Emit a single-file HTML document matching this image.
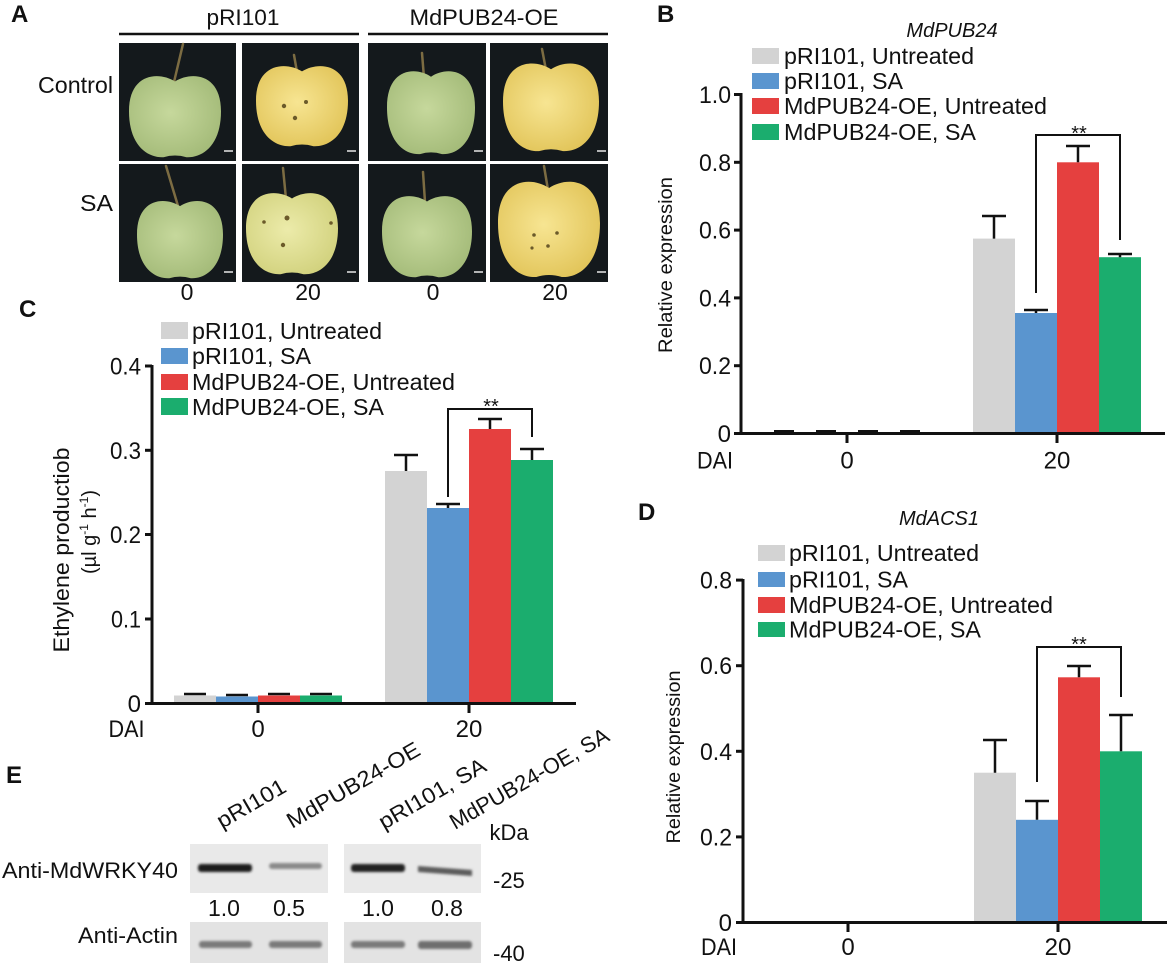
<!DOCTYPE html>
<html><head><meta charset="utf-8"><style>
html,body{margin:0;padding:0;background:#fff;}
svg{display:block;}
text{font-family:"Liberation Sans",Arial,sans-serif;fill:#111;}
</style></head><body>
<svg width="1167" height="964" viewBox="0 0 1167 964" xmlns="http://www.w3.org/2000/svg">
<defs>
<radialGradient id="gG" cx="0.45" cy="0.45" r="0.6"><stop offset="0" stop-color="#c6d89c"/><stop offset="1" stop-color="#a4bb79"/></radialGradient>
<radialGradient id="gY" cx="0.45" cy="0.45" r="0.6"><stop offset="0" stop-color="#f7e592"/><stop offset="1" stop-color="#e2c55a"/></radialGradient>
<radialGradient id="gP" cx="0.45" cy="0.45" r="0.6"><stop offset="0" stop-color="#ecebaa"/><stop offset="1" stop-color="#d2d27e"/></radialGradient>
<filter id="bl" x="-20%" y="-100%" width="140%" height="300%"><feGaussianBlur stdDeviation="1.4"/></filter>
</defs>

<!-- ===== Panel A ===== -->
<text x="11" y="22" font-size="24" font-weight="bold">A</text>
<text x="243" y="25" font-size="22" text-anchor="middle" textLength="73" lengthAdjust="spacingAndGlyphs">pRI101</text>
<text x="484" y="25" font-size="22" text-anchor="middle" textLength="149" lengthAdjust="spacingAndGlyphs">MdPUB24-OE</text>
<line x1="119" y1="34" x2="359" y2="34" stroke="#111" stroke-width="2.5"/>
<line x1="368" y1="34" x2="608" y2="34" stroke="#111" stroke-width="2.5"/>
<text x="113" y="93" font-size="23" text-anchor="end" textLength="75" lengthAdjust="spacingAndGlyphs">Control</text>
<text x="113" y="211" font-size="23" text-anchor="end" textLength="33" lengthAdjust="spacingAndGlyphs">SA</text>

<g fill="#14191c">
<rect x="119" y="43" width="117" height="118"/>
<rect x="242" y="43" width="117" height="118"/>
<rect x="368" y="43" width="118" height="118"/>
<rect x="490" y="43" width="118" height="118"/>
<rect x="119" y="164" width="117" height="118"/>
<rect x="242" y="164" width="117" height="118"/>
<rect x="368" y="164" width="118" height="118"/>
<rect x="490" y="164" width="118" height="118"/>
</g>
<g stroke="#7c6c42" stroke-width="2.5" stroke-linecap="round">
<line x1="183" y1="44" x2="174" y2="82"/>
<line x1="294" y1="55" x2="297" y2="72"/>
<line x1="422" y1="53" x2="424" y2="78"/>
<line x1="542" y1="49" x2="546" y2="70"/>
<line x1="166" y1="166" x2="178" y2="206"/>
<line x1="283" y1="168" x2="286" y2="199"/>
<line x1="423" y1="172" x2="425" y2="202"/>
<line x1="544" y1="166" x2="548" y2="190"/>
</g>
<path fill="url(#gG)" d="M175,81.5 C191.1,71.3 221,73 221,111.3 C221,145.3 202.6,158 186.5,157.2 Q175,153.8 163.5,157.2 C147.4,158 129,145.3 129,111.3 C129,73 158.9,71.3 175,81.5Z"/>
<path fill="url(#gY)" d="M302,71.4 C318.1,61.3 348,63 348,100.8 C348,134.4 329.6,147 313.5,146.2 Q302,142.8 290.5,146.2 C274.4,147 256,134.4 256,100.8 C256,63 285.9,61.3 302,71.4Z"/>
<path fill="url(#gG)" d="M431,76.7 C446.4,66.3 475,68 475,107.2 C475,142 457.4,155 442,154.1 Q431,150.7 420,154.1 C404.6,155 387,142 387,107.2 C387,68 415.6,66.3 431,76.7Z"/>
<path fill="url(#gY)" d="M551,69.2 C567.8,58.2 599,60 599,101.4 C599,138.2 579.8,152 563,151.1 Q551,147.4 539,151.1 C522.2,152 503,138.2 503,101.4 C503,60 534.2,58.2 551,69.2Z"/>
<path fill="url(#gG)" d="M180,206.1 C195.1,196.4 223,198 223,234.5 C223,266.9 205.8,279 190.8,278.2 Q180,275 169.3,278.2 C154.2,279 137,266.9 137,234.5 C137,198 164.9,196.4 180,206.1Z"/>
<path fill="url(#gP)" d="M292,198.5 C308.1,188.3 338,190 338,228.3 C338,262.3 319.6,275 303.5,274.2 Q292,270.8 280.5,274.2 C264.4,275 246,262.3 246,228.3 C246,190 275.9,188.3 292,198.5Z"/>
<path fill="url(#gG)" d="M427,201.5 C442.8,191.3 472,193 472,231.3 C472,265.3 454,278 438.3,277.2 Q427,273.8 415.8,277.2 C400,278 382,265.3 382,231.3 C382,193 411.3,191.3 427,201.5Z"/>
<path fill="url(#gY)" d="M549,188 C566.9,176 600,178 600,223 C600,263 579.6,278 561.8,277 Q549,273 536.3,277 C518.4,278 498,263 498,223 C498,178 531.2,176 549,188Z"/>
<g fill="#6b5a2a">
<circle cx="284" cy="106" r="2.2"/><circle cx="306" cy="102" r="2"/><circle cx="295" cy="118" r="2.2"/>
<circle cx="287" cy="218" r="2.5"/><circle cx="264" cy="222" r="1.8"/><circle cx="283" cy="245" r="2.2"/><circle cx="331" cy="223" r="1.8"/>
<circle cx="534" cy="235" r="1.8"/><circle cx="557" cy="233" r="1.8"/><circle cx="532" cy="248" r="1.6"/><circle cx="548" cy="246" r="1.8"/>
</g>
<g stroke="#e8e8e8" stroke-width="1.5">
<line x1="224" y1="151" x2="233" y2="151"/><line x1="347" y1="151" x2="356" y2="151"/>
<line x1="474" y1="151" x2="483" y2="151"/><line x1="597" y1="151" x2="606" y2="151"/>
<line x1="224" y1="272" x2="233" y2="272"/><line x1="347" y1="272" x2="356" y2="272"/>
<line x1="474" y1="272" x2="483" y2="272"/><line x1="597" y1="272" x2="606" y2="272"/>
</g>
<g font-size="23" text-anchor="middle">
<text x="187" y="300">0</text><text x="308" y="300">20</text>
<text x="433" y="300">0</text><text x="555" y="300">20</text>
</g>

<!-- ===== Panel B ===== -->
<text x="657" y="22" font-size="24" font-weight="bold">B</text>
<text x="952" y="37" font-size="20" font-style="italic" text-anchor="middle">MdPUB24</text>
<rect x="752" y="48" width="27" height="16" fill="#d3d3d3"/>
<rect x="752" y="73" width="27" height="16" fill="#5a95cf"/>
<rect x="752" y="98" width="27" height="16" fill="#e5403f"/>
<rect x="752" y="124" width="27" height="16" fill="#1bad6e"/>
<g font-size="23">
<text x="784" y="64" textLength="190" lengthAdjust="spacingAndGlyphs">pRI101, Untreated</text>
<text x="784" y="89" textLength="119" lengthAdjust="spacingAndGlyphs">pRI101, SA</text>
<text x="784" y="114" textLength="263" lengthAdjust="spacingAndGlyphs">MdPUB24-OE, Untreated</text>
<text x="784" y="140" textLength="192" lengthAdjust="spacingAndGlyphs">MdPUB24-OE, SA</text>
</g>
<text transform="translate(672,265) rotate(-90)" font-size="19" text-anchor="middle" textLength="176" lengthAdjust="spacingAndGlyphs">Relative expression</text>
<rect x="973" y="238.6" width="42" height="194.9" fill="#d3d3d3"/>
<rect x="1015" y="313" width="42" height="120.5" fill="#5a95cf"/>
<rect x="1057" y="162.3" width="42" height="271.2" fill="#e5403f"/>
<rect x="1099" y="257.2" width="42" height="176.3" fill="#1bad6e"/>
<g stroke="#111" stroke-width="2.5" fill="none">
<path d="M994,238.6V216M982,216H1006"/>
<path d="M1036,313V310M1024,310H1048"/>
<path d="M1078,162.3V146M1066,146H1090"/>
<path d="M1120,257.2V254M1108,254H1132"/>
</g>
<g stroke="#111" stroke-width="3">
<line x1="774" y1="431.5" x2="794" y2="431.5"/><line x1="816" y1="431.5" x2="836" y2="431.5"/>
<line x1="858" y1="431.5" x2="878" y2="431.5"/><line x1="900" y1="431.5" x2="920" y2="431.5"/>
</g>
<polyline points="1036,293 1036,135 1120,135 1120,240" fill="none" stroke="#111" stroke-width="2"/>
<text x="1079" y="140" font-size="20" text-anchor="middle">**</text>
<g stroke="#111" stroke-width="3">
<line x1="741" y1="93" x2="741" y2="435"/>
<line x1="739.5" y1="433.5" x2="1165" y2="433.5"/>
<line x1="734" y1="433.5" x2="741" y2="433.5"/>
<line x1="734" y1="365.7" x2="741" y2="365.7"/>
<line x1="734" y1="297.9" x2="741" y2="297.9"/>
<line x1="734" y1="230.1" x2="741" y2="230.1"/>
<line x1="734" y1="162.3" x2="741" y2="162.3"/>
<line x1="734" y1="94.5" x2="741" y2="94.5"/>
<line x1="847" y1="433.5" x2="847" y2="443"/>
<line x1="1057" y1="433.5" x2="1057" y2="443"/>
</g>
<g font-size="24" text-anchor="end">
<text x="731" y="442">0</text>
<text x="731" y="374.2" textLength="32" lengthAdjust="spacingAndGlyphs">0.2</text>
<text x="731" y="306.4" textLength="32" lengthAdjust="spacingAndGlyphs">0.4</text>
<text x="731" y="238.6" textLength="32" lengthAdjust="spacingAndGlyphs">0.6</text>
<text x="731" y="170.8" textLength="32" lengthAdjust="spacingAndGlyphs">0.8</text>
<text x="731" y="103" textLength="32" lengthAdjust="spacingAndGlyphs">1.0</text>
</g>
<g font-size="24" text-anchor="middle">
<text x="715" y="468.5" textLength="36" lengthAdjust="spacingAndGlyphs">DAI</text>
<text x="847" y="468.5">0</text><text x="1057" y="468.5">20</text>
</g>

<!-- ===== Panel C ===== -->
<text x="19" y="317" font-size="24" font-weight="bold">C</text>
<rect x="161" y="322" width="27" height="17" fill="#d3d3d3"/>
<rect x="161" y="348" width="27" height="16" fill="#5a95cf"/>
<rect x="161" y="374" width="27" height="16" fill="#e5403f"/>
<rect x="161" y="398" width="27" height="17" fill="#1bad6e"/>
<g font-size="23">
<text x="192" y="339" textLength="190" lengthAdjust="spacingAndGlyphs">pRI101, Untreated</text>
<text x="192" y="364" textLength="119" lengthAdjust="spacingAndGlyphs">pRI101, SA</text>
<text x="192" y="390" textLength="263" lengthAdjust="spacingAndGlyphs">MdPUB24-OE, Untreated</text>
<text x="192" y="415" textLength="192" lengthAdjust="spacingAndGlyphs">MdPUB24-OE, SA</text>
</g>
<text transform="translate(69,550) rotate(-90)" font-size="22" text-anchor="middle" textLength="205" lengthAdjust="spacingAndGlyphs">Ethylene productiob</text>
<text transform="translate(96,532) rotate(-90)" font-size="20" text-anchor="middle">(µl g<tspan font-size="12" dy="-8">-1</tspan><tspan dy="8"> h</tspan><tspan font-size="12" dy="-8">-1</tspan><tspan dy="8">)</tspan></text>
<rect x="174" y="695.5" width="42" height="8" fill="#d3d3d3"/>
<rect x="216" y="696.5" width="42" height="7" fill="#5a95cf"/>
<rect x="258" y="695.5" width="42" height="8" fill="#e5403f"/>
<rect x="300" y="695.5" width="42" height="8" fill="#1bad6e"/>
<g stroke="#111" stroke-width="2.5">
<line x1="184" y1="694" x2="206" y2="694"/><line x1="226" y1="695" x2="248" y2="695"/>
<line x1="268" y1="694" x2="290" y2="694"/><line x1="310" y1="694" x2="332" y2="694"/>
</g>
<rect x="385" y="471" width="42" height="232.5" fill="#d3d3d3"/>
<rect x="427" y="508" width="42" height="195.5" fill="#5a95cf"/>
<rect x="469" y="429" width="42" height="274.5" fill="#e5403f"/>
<rect x="511" y="460" width="42" height="243.5" fill="#1bad6e"/>
<g stroke="#111" stroke-width="2.5" fill="none">
<path d="M406,471V455M394,455H418"/>
<path d="M448,508V504M436,504H460"/>
<path d="M490,429V419M478,419H502"/>
<path d="M532,460V449M520,449H544"/>
</g>
<polyline points="448,497 448,409 532,409 532,437" fill="none" stroke="#111" stroke-width="2"/>
<text x="491" y="413" font-size="20" text-anchor="middle">**</text>
<g stroke="#111" stroke-width="3">
<line x1="152" y1="365" x2="152" y2="705"/>
<line x1="150.5" y1="703.5" x2="576" y2="703.5"/>
<line x1="145" y1="703.5" x2="152" y2="703.5"/>
<line x1="145" y1="619" x2="152" y2="619"/>
<line x1="145" y1="534.5" x2="152" y2="534.5"/>
<line x1="145" y1="450.3" x2="152" y2="450.3"/>
<line x1="145" y1="366" x2="152" y2="366"/>
<line x1="258" y1="703.5" x2="258" y2="713"/>
<line x1="469" y1="703.5" x2="469" y2="713"/>
</g>
<g font-size="24" text-anchor="end">
<text x="141" y="712">0</text>
<text x="141" y="627.5" textLength="30" lengthAdjust="spacingAndGlyphs">0.1</text>
<text x="141" y="543" textLength="31" lengthAdjust="spacingAndGlyphs">0.2</text>
<text x="141" y="458.8" textLength="31" lengthAdjust="spacingAndGlyphs">0.3</text>
<text x="141" y="374.5" textLength="31" lengthAdjust="spacingAndGlyphs">0.4</text>
</g>
<g font-size="24" text-anchor="middle">
<text x="126.5" y="737" textLength="36" lengthAdjust="spacingAndGlyphs">DAI</text>
<text x="258" y="737">0</text><text x="469" y="737">20</text>
</g>

<!-- ===== Panel D ===== -->
<text x="638" y="520" font-size="24" font-weight="bold">D</text>
<text x="939" y="525" font-size="20" font-style="italic" text-anchor="middle">MdACS1</text>
<rect x="758" y="545" width="27" height="16" fill="#d3d3d3"/>
<rect x="758" y="572" width="27" height="15" fill="#5a95cf"/>
<rect x="758" y="597" width="27" height="16" fill="#e5403f"/>
<rect x="758" y="622" width="27" height="15" fill="#1bad6e"/>
<g font-size="23">
<text x="789" y="561" textLength="190" lengthAdjust="spacingAndGlyphs">pRI101, Untreated</text>
<text x="789" y="587.5" textLength="119" lengthAdjust="spacingAndGlyphs">pRI101, SA</text>
<text x="789" y="613" textLength="264" lengthAdjust="spacingAndGlyphs">MdPUB24-OE, Untreated</text>
<text x="789" y="637.5" textLength="192" lengthAdjust="spacingAndGlyphs">MdPUB24-OE, SA</text>
</g>
<text transform="translate(680,757) rotate(-90)" font-size="19" text-anchor="middle" textLength="173" lengthAdjust="spacingAndGlyphs">Relative expression</text>
<rect x="974" y="772.7" width="42" height="149.8" fill="#d3d3d3"/>
<rect x="1016" y="819.8" width="42" height="102.7" fill="#5a95cf"/>
<rect x="1058" y="677.3" width="42" height="245.2" fill="#e5403f"/>
<rect x="1100" y="751.3" width="42" height="171.2" fill="#1bad6e"/>
<g stroke="#111" stroke-width="2.5" fill="none">
<path d="M995,772.7V740M983,740H1007"/>
<path d="M1037,819.8V801M1025,801H1049"/>
<path d="M1079,677.3V666M1067,666H1091"/>
<path d="M1121,751.3V715M1109,715H1133"/>
</g>
<polyline points="1037,782 1037,647 1121,647 1121,697" fill="none" stroke="#111" stroke-width="2"/>
<text x="1079" y="651" font-size="20" text-anchor="middle">**</text>
<g stroke="#111" stroke-width="3">
<line x1="743" y1="579" x2="743" y2="924"/>
<line x1="741.5" y1="922.5" x2="1167" y2="922.5"/>
<line x1="736" y1="922.5" x2="743" y2="922.5"/>
<line x1="736" y1="836.9" x2="743" y2="836.9"/>
<line x1="736" y1="751.3" x2="743" y2="751.3"/>
<line x1="736" y1="665.7" x2="743" y2="665.7"/>
<line x1="736" y1="580.1" x2="743" y2="580.1"/>
<line x1="848" y1="922.5" x2="848" y2="932"/>
<line x1="1058" y1="922.5" x2="1058" y2="932"/>
</g>
<g font-size="24" text-anchor="end">
<text x="732" y="931">0</text>
<text x="732" y="845.4" textLength="32" lengthAdjust="spacingAndGlyphs">0.2</text>
<text x="732" y="759.8" textLength="32" lengthAdjust="spacingAndGlyphs">0.4</text>
<text x="732" y="674.2" textLength="32" lengthAdjust="spacingAndGlyphs">0.6</text>
<text x="732" y="588.6" textLength="32" lengthAdjust="spacingAndGlyphs">0.8</text>
</g>
<g font-size="24" text-anchor="middle">
<text x="719" y="955" textLength="36" lengthAdjust="spacingAndGlyphs">DAI</text>
<text x="848" y="955">0</text><text x="1058" y="955">20</text>
</g>

<!-- ===== Panel E ===== -->
<text x="6" y="783" font-size="24" font-weight="bold">E</text>
<g font-size="22">
<text transform="translate(222,829) rotate(-30)" textLength="76" lengthAdjust="spacingAndGlyphs">pRI101</text>
<text transform="translate(292,829) rotate(-30)" textLength="150" lengthAdjust="spacingAndGlyphs">MdPUB24-OE</text>
<text transform="translate(384,830) rotate(-30)" textLength="120" lengthAdjust="spacingAndGlyphs">pRI101, SA</text>
<text transform="translate(455,830) rotate(-30)" textLength="180" lengthAdjust="spacingAndGlyphs">MdPUB24-OE, SA</text>
</g>
<text x="509" y="840" font-size="22" text-anchor="middle">kDa</text>
<text x="493" y="888" font-size="22">-25</text>
<text x="493" y="961" font-size="22">-40</text>
<text x="2" y="878" font-size="22" textLength="176" lengthAdjust="spacingAndGlyphs">Anti-MdWRKY40</text>
<text x="78" y="943" font-size="22" textLength="100" lengthAdjust="spacingAndGlyphs">Anti-Actin</text>
<rect x="190" y="844" width="138" height="49" fill="#e9e9e9"/>
<rect x="344" y="844" width="137" height="49" fill="#e9e9e9"/>
<rect x="190" y="922" width="138" height="41" fill="#e3e3e3"/>
<rect x="344" y="922" width="137" height="41" fill="#e3e3e3"/>
<g filter="url(#bl)">
<rect x="198" y="864" width="54" height="8" rx="3" fill="#1a1a1a"/>
<rect x="269" y="863" width="53" height="6" rx="3" fill="#8a8a8a"/>
<rect x="351" y="864" width="54" height="8" rx="3" fill="#222"/>
<path d="M418,866 L472,870 L472,876 L418,872Z" fill="#5c5c5c"/>
<rect x="199" y="941" width="53" height="7" rx="3" fill="#7a7a7a"/>
<rect x="269" y="941" width="53" height="7" rx="3" fill="#7a7a7a"/>
<rect x="351" y="941" width="54" height="7" rx="3" fill="#7a7a7a"/>
<rect x="418" y="941" width="54" height="8" rx="3" fill="#6e6e6e"/>
</g>
<g font-size="23" text-anchor="middle">
<text x="224" y="916">1.0</text><text x="289" y="916">0.5</text>
<text x="378" y="916">1.0</text><text x="447" y="916">0.8</text>
</g>
</svg>
</body></html>
